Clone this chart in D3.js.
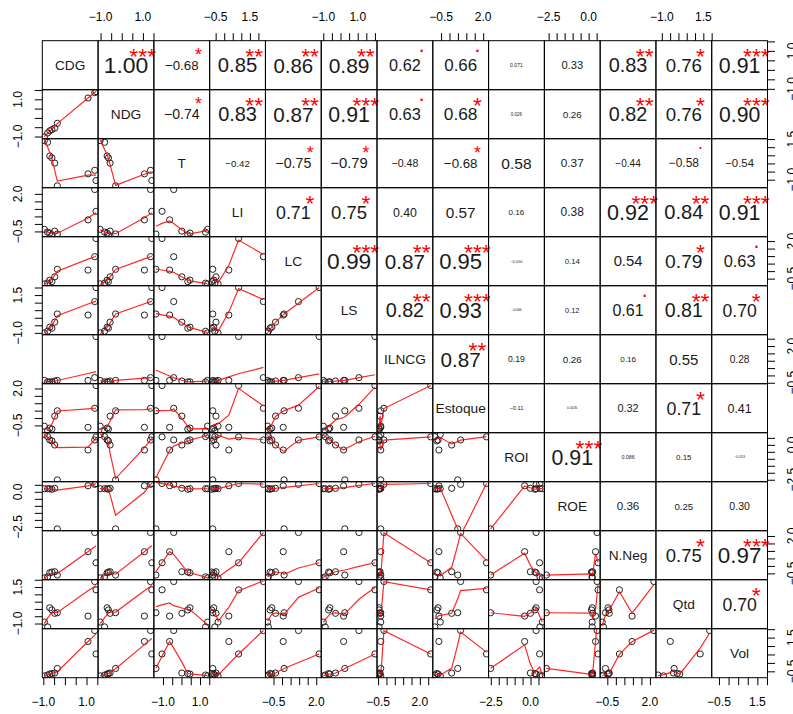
<!DOCTYPE html>
<html>
<head>
<meta charset="utf-8">
<script src="https://cdn.jsdelivr.net/npm/d3@7"></script>
<style>
  body { margin: 0; background: #fff; }
  svg { display: block; font-family: "Liberation Sans", Arial, sans-serif; }
</style>
</head>
<body>
<div id="chart"></div>
<script>
// Variable names, shown on the diagonal
const varNames = ["CDG", "NDG", "T", "LI", "LC", "LS", "ILNCG", "Estoque", "ROI", "ROE", "N.Neg", "Qtd", "Vol"];

const CDG     = [-0.95, -0.80, -0.70, -0.60, -0.47, -0.35, 1.07, 1.38, 1.44];
const NDG     = [-1.02, -0.81, -0.69, -0.63, -0.55, -0.29, 1.07, 1.36, 1.42];
const T       = [1.41, 1.30, 0.46, 0.34, 0.02, -1.38, -0.64, -0.42, -1.05];
const LI      = [-0.36, -0.55, -0.61, -0.73, -0.48, -0.67, 0.27, 2.29, 0.84];
const LC      = [-0.85, -0.80, -0.60, -0.70, -0.38, 0.12, 0.07, 0.96, 2.17];
const LS      = [-1.00, -0.89, -0.62, -0.69, -0.29, 0.25, 0.18, 1.07, 2.00];
const ILNCG   = [-0.34, -0.44, -0.44, -0.44, -0.38, -0.34, -0.34, -0.15, 2.65];
const Estoque = [-0.55, -0.87, -0.68, -0.75, 0.13, 0.49, -0.63, 0.66, 2.20];
const ROI     = [0.74, 0.59, 0.35, 0.28, -0.01, -2.51, -0.37, 0.35, 0.57];
const ROE     = [0.22, 0.22, 0.22, 0.18, 0.25, -2.64, 0.43, 0.53, 0.59];
const NNeg    = [-0.80, -0.73, -0.46, -0.41, -0.39, -0.61, 0.95, 2.23, 0.21];
const Qtd     = [-0.90, -1.23, 0.08, -0.07, -0.30, -0.26, -0.49, 1.88, 1.31];
const Vol     = [-0.77, -0.72, -0.66, -0.63, -0.60, -0.33, 1.27, 1.92, 0.53];
const series = [CDG, NDG, T, LI, LC, LS, ILNCG, Estoque, ROI, ROE, NNeg, Qtd, Vol];

// Upper triangle: correlation labels, row by row
const corLabels = [
  ["1.00", "−0.68", "0.85", "0.86", "0.89", "0.62", "0.66", "0.071", "0.33", "0.83", "0.76", "0.91"],
  ["−0.74", "0.83", "0.87", "0.91", "0.63", "0.68", "0.026", "0.26", "0.82", "0.76", "0.90"],
  ["−0.42", "−0.75", "−0.79", "−0.48", "−0.68", "0.58", "0.37", "−0.44", "−0.58", "−0.54"],
  ["0.71", "0.75", "0.40", "0.57", "0.16", "0.38", "0.92", "0.84", "0.91"],
  ["0.99", "0.87", "0.95", "−0.050", "0.14", "0.54", "0.79", "0.63"],
  ["0.82", "0.93", "−0.0066", "0.12", "0.61", "0.81", "0.70"],
  ["0.87", "0.19", "0.26", "0.16", "0.55", "0.28"],
  ["−0.11", "0.0035", "0.32", "0.71", "0.41"],
  ["0.91", "0.086", "0.15", "−0.013"],
  ["0.36", "0.25", "0.30"],
  ["0.75", "0.97"],
  ["0.70"]
];
// Significance symbols, same layout
const corStars = [
  ["***", "*", "**", "**", "**", ".", ".", "", "", "**", "*", "***"],
  ["*", "**", "**", "***", ".", "*", "", "", "**", "*", "***"],
  ["", "*", "*", "", "*", "", "", "", ".", ""],
  ["*", "*", "", "", "", "", "***", "**", "***"],
  ["***", "**", "***", "", "", "", "*", "."],
  ["**", "***", "", "", ".", "**", "*"],
  ["**", "", "", "", "", ""],
  ["", "", "", "*", ""],
  ["***", "", "", ""],
  ["", "", ""],
  ["*", "***"],
  ["*"]
];

// Tick labels kept on each variable's axes
const xTickLabels = [[-1, 1], [-1, 1], [-1, 1], [-0.5, 1.5], [-0.5, 2], [-1, 1], [-0.5, 2],
                     [-0.5, 2], [-2.5, 0], [-2.5, 0], [-0.5, 2], [-1, 1.5], [-0.5, 1.5]];
const yTickLabels = [[-1, 1], [-1, 1], [-1, 1.5], [-0.5, 2], [-0.5, 2], [-1, 1.5], [-0.5, 2],
                     [-0.5, 2], [-2.5, 0], [-2.5, 0], [-0.5, 2], [-1, 1.5], [-0.5, 1.5]];

// R's lowess (clowess port), f = 2/3, iter = 3
function lowess(xIn, yIn, f = 2 / 3, iter = 3) {
    const n = xIn.length;
    const o = d3.range(n).sort((a, b) => xIn[a] - xIn[b]);
    const x = o.map(i => xIn[i]), y = o.map(i => yIn[i]);
    const range = x[n - 1] - x[0];
    const delta = 0.01 * range;
    const ys = new Array(n).fill(0), rw = new Array(n).fill(1), res = new Array(n).fill(0);
    const ns = Math.max(2, Math.min(n, Math.floor(f * n + 1e-7)));

    function lowest(xs, nleft, nright, userw) {
        const h = Math.max(xs - x[nleft], x[nright] - xs);
        const h9 = 0.999 * h, h1 = 0.001 * h;
        const w = new Array(n).fill(0);
        let a = 0, j = nleft;
        while (j < n) {
            w[j] = 0;
            const r = Math.abs(x[j] - xs);
            if (r <= h9) {
                w[j] = r <= h1 ? 1 : Math.pow(1 - Math.pow(r / h, 3), 3);
                if (userw) w[j] *= rw[j];
                a += w[j];
            } else if (x[j] > xs) break;
            j++;
        }
        const nrt = j - 1;
        if (a <= 0) return null;
        for (j = nleft; j <= nrt; j++) w[j] /= a;
        if (h > 0) {
            a = 0;
            for (j = nleft; j <= nrt; j++) a += w[j] * x[j];
            let b = xs - a, c = 0;
            for (j = nleft; j <= nrt; j++) c += w[j] * (x[j] - a) * (x[j] - a);
            if (Math.sqrt(c) > 0.001 * range) {
                b /= c;
                for (j = nleft; j <= nrt; j++) w[j] *= (b * (x[j] - a) + 1);
            }
        }
        let s = 0;
        for (j = nleft; j <= nrt; j++) s += w[j] * y[j];
        return s;
    }

    let iiter = 1;
    while (iiter <= iter + 1) {
        let nleft = 0, nright = ns - 1, last = -1, i = 0;
        for (;;) {
            if (nright < n - 1) {
                const d1 = x[i] - x[nleft], d2 = x[nright + 1] - x[i];
                if (d1 > d2) { nleft++; nright++; continue; }
            }
            const v = lowest(x[i], nleft, nright, iiter > 1);
            ys[i] = v === null ? y[i] : v;
            if (last < i - 1) {
                const denom = x[i] - x[last];
                for (let j = last + 1; j < i; j++) {
                    const alpha = (x[j] - x[last]) / denom;
                    ys[j] = alpha * ys[i] + (1 - alpha) * ys[last];
                }
            }
            last = i;
            const cut = x[last] + delta;
            for (i = last + 1; i < n; i++) {
                if (x[i] > cut) break;
                if (x[i] === x[last]) { ys[i] = ys[last]; last = i; }
            }
            i = Math.max(last + 1, i - 1);
            if (last >= n - 1) break;
        }
        for (let k = 0; k < n; k++) res[k] = y[k] - ys[k];
        const sc = d3.sum(res, Math.abs) / n;
        if (iiter > iter) break;
        const ar = res.map(Math.abs);
        const srt = ar.slice().sort((a, b) => a - b);
        const m1 = Math.floor(n / 2);
        const cmad = n % 2 === 0 ? 3 * (srt[m1] + srt[n - m1 - 1]) : 6 * srt[m1];
        if (cmad < 1e-7 * sc) break;
        const c9 = 0.999 * cmad, c1 = 0.001 * cmad;
        for (let k = 0; k < n; k++) {
            const r = ar[k];
            rw[k] = r <= c1 ? 1 : r <= c9 ? Math.pow(1 - (r / cmad) * (r / cmad), 2) : 0;
        }
        iiter++;
    }
    return x.map((xv, k) => [xv, ys[k]]);
}

// Chart geometry
const WIDTH = 793, HEIGHT = 714;
const LEFT = 42.3, TOP = 40.7, RIGHT = 767.5, BOTTOM = 677.7;
const nv = varNames.length;
const cw = (RIGHT - LEFT) / nv, ch = (BOTTOM - TOP) / nv;
const FONT = "'Liberation Sans', Arial, sans-serif";
const AXIS_FS = 12, TICK = 7.5, LABEL_GAP = 20;

const ctx = document.createElement("canvas").getContext("2d");
function textWidth(s, size) {
    ctx.font = `${size}px ${FONT}`;
    return ctx.measureText(s).width;
}

let svg = d3.select("#chart").append("svg")
    .attr("width", WIDTH)
    .attr("height", HEIGHT);
svg.append("rect").attr("width", WIDTH).attr("height", HEIGHT).attr("fill", "#fff");
svg.append("defs").append("clipPath").attr("id", "cell")
    .append("rect").attr("width", cw).attr("height", ch);

// one x and one y scale per variable, padded 4% like R
const xScales = series.map(v => {
    const [a, b] = d3.extent(v), p = 0.04 * (b - a);
    return d3.scaleLinear().domain([a - p, b + p]).range([0, cw]);
});
const yScales = series.map(v => {
    const [a, b] = d3.extent(v), p = 0.04 * (b - a);
    return d3.scaleLinear().domain([a - p, b + p]).range([ch, 0]);
});

const labelFs = 0.9 * cw / d3.max(varNames, s => textWidth(s, 100) / 100);

for (let i = 0; i < nv; i++) {
    for (let j = 0; j < nv; j++) {
        let g = svg.append("g").attr("transform", `translate(${LEFT + j * cw},${TOP + i * ch})`);
        if (i === j) {
            // diagonal: variable name
            g.append("text")
                .attr("x", cw / 2).attr("y", ch / 2 + 0.358 * labelFs)
                .attr("text-anchor", "middle")
                .attr("font-size", labelFs)
                .attr("fill", "#1a1a1a")
                .text(varNames[i]);
        } else if (i < j) {
            // upper: correlation sized by |r|, stars in red
            const txt = corLabels[i][j - i - 1];
            const r = parseFloat(txt.replace("−", "-"));
            const cex = 0.8 * cw / (textWidth(txt, 100) / 100);
            const fs = cex * (Math.abs(r) + 0.3) / 1.3;
            g.append("text")
                .attr("x", cw / 2).attr("y", ch / 2 + 0.358 * fs)
                .attr("text-anchor", "middle")
                .attr("font-size", fs)
                .attr("fill", "#1a1a1a")
                .text(txt);
            const star = corStars[i][j - i - 1];
            if (star) {
                const off = star === "." ? 0.05 : 0.57;
                g.append("text")
                    .attr("x", 0.8 * cw).attr("y", 0.2 * ch + off * cex)
                    .attr("text-anchor", "middle")
                    .attr("font-size", cex)
                    .attr("fill", "#ff0000")
                    .text(star);
            }
        } else {
            // lower: scatter + lowess smooth
            const xs = xScales[j], ys = yScales[i];
            const inner = g.append("g").attr("clip-path", "url(#cell)");
            const pts = series[j].map((v, k) => [v, series[i][k]]);
            inner.selectAll("circle")
                .data(pts)
                .enter()
                .append("circle")
                    .attr("cx", d => xs(d[0]))
                    .attr("cy", d => ys(d[1]))
                    .attr("r", 3.1)
                    .attr("fill", "none")
                    .attr("stroke", "#222")
                    .attr("stroke-width", 1);
            inner.append("path")
                .datum(lowess(series[j], series[i]))
                .attr("d", d3.line().x(d => xs(d[0])).y(d => ys(d[1])))
                .attr("fill", "none")
                .attr("stroke", "#ff0000")
                .attr("stroke-opacity", 0.85)
                .attr("stroke-width", 1.2);
        }
        g.append("rect")
            .attr("width", cw).attr("height", ch)
            .attr("fill", "none")
            .attr("stroke", "#000")
            .attr("stroke-width", 1);
    }
}

// Axes: alternate top/bottom and left/right like pairs()
const fmt = v => d3.format(".1f")(v);
function styleAxis(sel) {
    sel.select(".domain").remove();
    sel.selectAll(".tick line").attr("stroke", "#000");
}
for (let k = 0; k < nv; k++) {
    const xs = xScales[k], ys = yScales[k];
    const xTicks = xs.ticks(5), yTicks = ys.ticks(5);
    const x0 = LEFT + k * cw, y0 = TOP + k * ch;

    if (k % 2 === 1) {
        svg.append("g").attr("transform", `translate(${x0},${TOP})`)
            .call(d3.axisTop(xs).tickValues(xTicks).tickSize(TICK).tickFormat(""))
            .call(styleAxis);
        xTickLabels[k].forEach(v => svg.append("text")
            .attr("x", x0 + xs(v)).attr("y", TOP - LABEL_GAP)
            .attr("text-anchor", "middle").attr("font-size", AXIS_FS).text(fmt(v)));
        svg.append("g").attr("transform", `translate(${LEFT},${y0})`)
            .call(d3.axisLeft(ys).tickValues(yTicks).tickSize(TICK).tickFormat(""))
            .call(styleAxis);
        yTickLabels[k].forEach(v => svg.append("text")
            .attr("transform", `translate(${LEFT - LABEL_GAP},${y0 + ys(v)}) rotate(-90)`)
            .attr("text-anchor", "middle").attr("font-size", AXIS_FS).text(fmt(v)));
    } else {
        svg.append("g").attr("transform", `translate(${x0},${BOTTOM})`)
            .call(d3.axisBottom(xs).tickValues(xTicks).tickSize(TICK).tickFormat(""))
            .call(styleAxis);
        xTickLabels[k].forEach(v => svg.append("text")
            .attr("x", x0 + xs(v)).attr("y", BOTTOM + LABEL_GAP + 0.716 * AXIS_FS)
            .attr("text-anchor", "middle").attr("font-size", AXIS_FS).text(fmt(v)));
        svg.append("g").attr("transform", `translate(${RIGHT},${y0})`)
            .call(d3.axisRight(ys).tickValues(yTicks).tickSize(TICK).tickFormat(""))
            .call(styleAxis);
        yTickLabels[k].forEach(v => svg.append("text")
            .attr("transform", `translate(${RIGHT + LABEL_GAP + 0.716 * AXIS_FS},${y0 + ys(v)}) rotate(-90)`)
            .attr("text-anchor", "middle").attr("font-size", AXIS_FS).text(fmt(v)));
    }
}
</script>
</body>
</html>
